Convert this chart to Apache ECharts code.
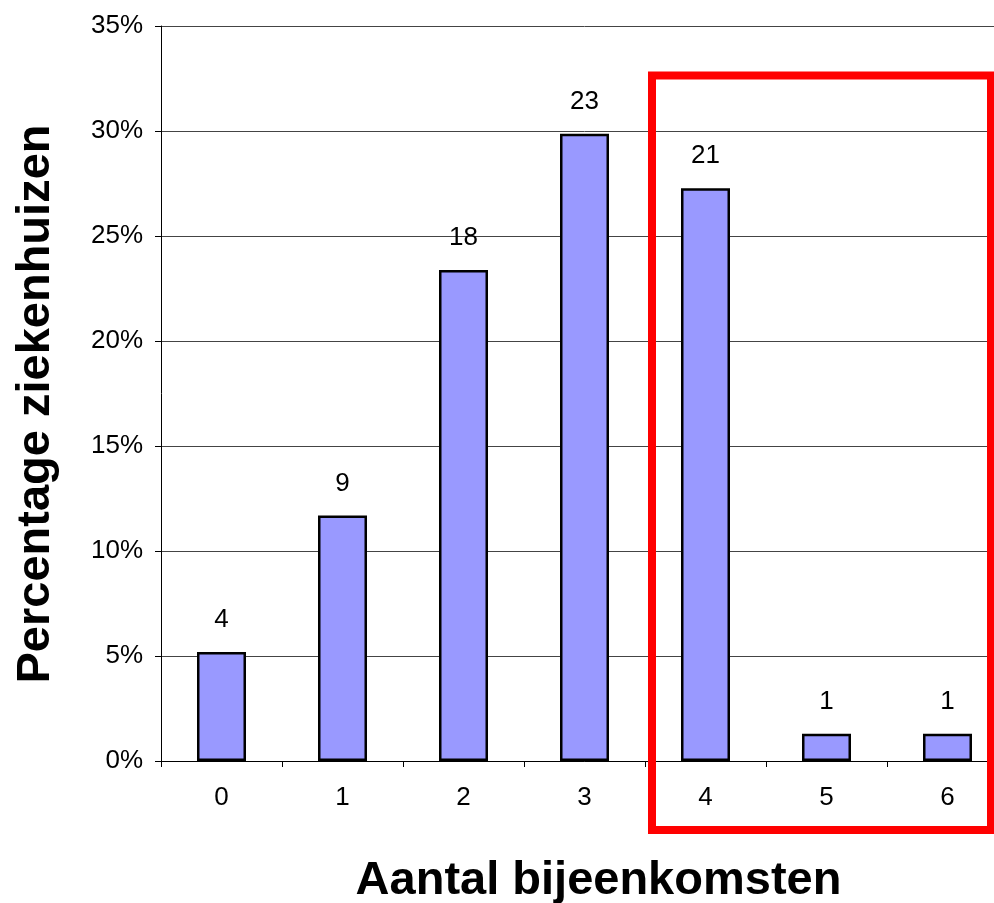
<!DOCTYPE html>
<html>
<head>
<meta charset="utf-8">
<script src="https://cdn.jsdelivr.net/npm/echarts@6/dist/echarts.min.js"></script>
<style>
  html, body { margin: 0; padding: 0; background: #fff; overflow: hidden; }
  /* plot area runs slightly past the right edge of the window */
  #chart { width: 1010px; height: 903px; }
</style>
</head>
<body>
<div id="chart"></div>
<script>
// Number of meetings (x categories) and number of hospitals per category
const categories = ['0', '1', '2', '3', '4', '5', '6'];
const hospitalCounts = [4, 9, 18, 23, 21, 1, 1];
const yTicks = { min: 0, max: 35, interval: 5 };

const total = hospitalCounts.reduce((a, b) => a + b, 0);
// Bar height = share of hospitals (percent); label shows the count
const shares = hospitalCounts.map(c => (c / total) * 100);

const FONT = '"Liberation Sans", Arial, sans-serif';

const chart = echarts.init(document.getElementById('chart'), null, { renderer: 'canvas' });

chart.setOption({
  backgroundColor: '#ffffff',
  animation: false,
  grid: { left: 161, top: 26, width: 847, height: 735, containLabel: false },
  xAxis: {
    type: 'category',
    data: categories,
    boundaryGap: true,
    axisLine: { lineStyle: { color: '#000', width: 1 } },
    axisTick: { show: true, length: 6, lineStyle: { color: '#000' } },
    axisLabel: { color: '#000', fontFamily: FONT, fontSize: 26, margin: 24 },
    splitLine: { show: false }
  },
  yAxis: {
    type: 'value',
    min: yTicks.min,
    max: yTicks.max,
    interval: yTicks.interval,
    axisLine: { show: true, lineStyle: { color: '#000', width: 1 } },
    axisTick: { show: true, length: 6, lineStyle: { color: '#000' } },
    axisLabel: { color: '#000', fontFamily: FONT, fontSize: 26, margin: 18, formatter: '{value}%' },
    splitLine: { show: true, lineStyle: { color: '#444', width: 1 } }
  },
  series: [{
    type: 'bar',
    data: shares,
    barWidth: 49,
    itemStyle: { color: '#9999FF', borderColor: '#000', borderWidth: 2.5 },
    label: {
      show: true,
      position: 'top',
      distance: 19,
      color: '#000',
      fontFamily: FONT,
      fontSize: 26,
      formatter: p => String(hospitalCounts[p.dataIndex])
    }
  }],
  graphic: [
    {
      type: 'text',
      x: 35.7,
      y: 404,
      rotation: Math.PI / 2,
      style: {
        text: 'Percentage ziekenhuizen',
        fill: '#000',
        font: 'bold 47px ' + FONT,
        textAlign: 'center',
        textVerticalAlign: 'middle'
      }
    },
    {
      type: 'text',
      x: 598.5,
      y: 880.7,
      style: {
        text: 'Aantal bijeenkomsten',
        fill: '#000',
        font: 'bold 47px ' + FONT,
        textAlign: 'center',
        textVerticalAlign: 'middle'
      }
    },
    {
      type: 'rect',
      shape: { x: 652, y: 75.5, width: 339, height: 754.5 },
      style: { fill: 'none', stroke: '#FF0000', lineWidth: 8 },
      z: 100
    }
  ]
});
</script>
</body>
</html>
